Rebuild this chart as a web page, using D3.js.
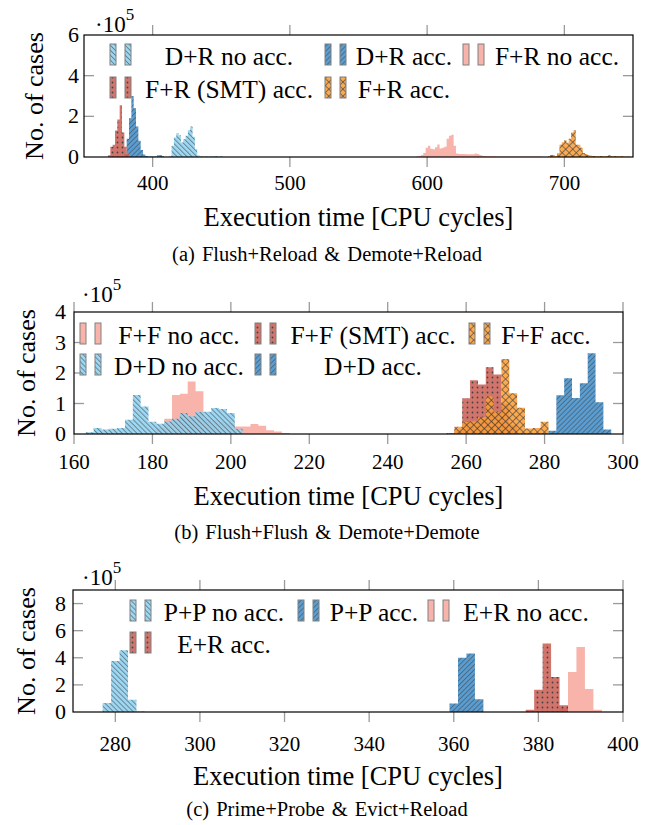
<!DOCTYPE html>
<html>
<head>
<meta charset="utf-8">
<script src="https://cdn.jsdelivr.net/npm/d3@7"></script>
<style>
  body { margin: 0; background: #fff; }
  svg text { font-family: "Liberation Serif", "Times New Roman", serif; fill: #000; }
</style>
</head>
<body>
<div id="chart"></div>
<script>
// all counts are in units of 1e5 cases, histogram bins start at "start"

// (a) Flush+Reload & Demote+Reload, bin width 1.7 cycles
let aBin = 1.7;
let aTicksX = [400, 500, 600, 700];
let aTicksY = [0, 2, 4, 6];
let drNoAccStart = 412.1;
let drNoAcc = [0.05, 0.55, 0.96, 1.17, 1.07, 0.71, 0.87, 1.04, 1.32, 1.5, 1.0, 0.38, 0.08, 0.04, 0.03, 0.03, 0.02, 0.02, 0.03, 0.05, 0.04, 0.02, 0.02];
let drAccStart = 379.4;
let drAcc = [0.15, 0.9, 1.9, 3.0, 2.4, 1.5, 0.8, 0.35, 0.12, 0.05, 0.03, 0.02, 0.02, 0.03, 0.08, 0.1, 0.05];
let frNoAccStart = 592.1;
let frNoAcc = [0.03, 0.05, 0.1, 0.2, 0.45, 0.55, 0.4, 0.38, 0.48, 0.62, 0.42, 0.45, 0.5, 0.9, 1.05, 1.1, 0.55, 0.17,
  0.15, 0.15, 0.15, 0.14, 0.14, 0.13, 0.13, 0.17, 0.15, 0.1, 0.06, 0.05, 0.04, 0.04, 0.04, 0.04, 0.03, 0.03, 0.03,
  0.03, 0.03, 0.03, 0.03, 0.03, 0.03, 0.02, 0.02, 0.02, 0.02, 0.02, 0.02, 0.02, 0.02, 0.02, 0.02, 0.02];
let frSmtStart = 367.5;
let frSmt = [0.08, 0.5, 0.6, 1.3, 1.85, 2.55, 1.2, 0.5, 0.15];
let frAccStart = 687.9;
let frAcc = [0.05, 0.1, 0.1, 0.05, 0.2, 0.6, 0.72, 0.82, 0.7, 0.9, 1.2, 1.32, 0.6, 0.6, 0.45, 0.2, 0.15, 0.1, 0.07,
  0.05, 0.04, 0.04, 0.04, 0.04, 0.04, 0.04, 0.1, 0.05, 0.04, 0.04, 0.04, 0.04, 0.03, 0.03, 0.03];

// (b) Flush+Flush & Demote+Demote, bin width 2 cycles
let bBin = 2;
let bTicksX = [160, 180, 200, 220, 240, 260, 280, 300];
let bTicksY = [0, 1, 2, 3, 4];
let ffNoAccStart = 181;
let ffNoAcc = [0.2, 0.5, 1.28, 1.32, 1.72, 1.4, 0.5, 0.45, 0.4, 0.35, 0.25, 0.25, 0.33, 0.27, 0.12, 0.08, 0.03];
let ffSmtStart = 257;
let ffSmt = [0.15, 1.17, 1.76, 1.62, 2.19, 1.95, 1.0, 0.3];
let ffAccStart = 255;
let ffAcc = [0.03, 0.24, 0.4, 0.42, 0.55, 1.23, 0.72, 2.46, 1.34, 0.86, 0.18, 0.2, 0.4];
let ddNoAccStart = 163;
let ddNoAcc = [0.06, 0.2, 0.15, 0.17, 0.2, 0.47, 1.28, 0.9, 0.4, 0.34, 0.41, 0.5, 0.69, 0.58, 0.72, 0.73, 0.85, 0.82, 0.69, 0.17];
let ddAccStart = 281;
let ddAcc = [0.11, 1.27, 1.83, 1.18, 1.66, 2.65, 1.04, 0.15];

// (c) Prime+Probe & Evict+Reload, bin width 2 cycles
let cBin = 2;
let cTicksX = [280, 300, 320, 340, 360, 380, 400];
let cTicksY = [0, 2, 4, 6, 8];
let ppNoAccStart = 277;
let ppNoAcc = [0.66, 3.77, 4.56, 0.91, 0.03];
let ppAccStart = 359;
let ppAcc = [0.62, 4.01, 4.31, 0.94];
let erNoAccStart = 385;
let erNoAcc = [0.3, 2.96, 4.8, 1.7, 0.17];
let erAccStart = 377;
let erAcc = [0.17, 1.65, 5.05, 2.59, 0.49];

let styles = {
    light: {color: '#8ed3f3', pattern: 'nw'},
    dark: {color: '#4290cc', pattern: 'ne'},
    pink: {color: '#f7a89e', pattern: null},
    red: {color: '#cb6157', pattern: 'dots'},
    orange: {color: '#fb9e38', pattern: 'cross'}
};

let panels = [
    {
        box: {x0: 84, x1: 633, y0: 35, y1: 157},
        xDomain: [350, 750], yDomain: [0, 6], bin: aBin,
        ticksX: aTicksX, ticksY: aTicksY,
        yLabelRight: 79, yTitleX: 43, xLabelY: 190, xTitleY: 226,
        expo: {x: 95, y: 32}, caption: '(a) Flush+Reload & Demote+Reload', captionY: 261,
        series: [
            {label: 'D+R no acc.', style: 'light', start: drNoAccStart, counts: drNoAcc},
            {label: 'D+R acc.', style: 'dark', start: drAccStart, counts: drAcc},
            {label: 'F+R no acc.', style: 'pink', start: frNoAccStart, counts: frNoAcc},
            {label: 'F+R (SMT) acc.', style: 'red', start: frSmtStart, counts: frSmt},
            {label: 'F+R acc.', style: 'orange', start: frAccStart, counts: frAcc}
        ],
        legend: {iconX: [110, 325, 463], textX: [229, 404, 557], rowY: [65, 98]}
    },
    {
        box: {x0: 74, x1: 623, y0: 312, y1: 434},
        xDomain: [160, 300], yDomain: [0, 4], bin: bBin,
        ticksX: bTicksX, ticksY: bTicksY,
        yLabelRight: 66, yTitleX: 35, xLabelY: 469, xTitleY: 505,
        expo: {x: 82, y: 302}, caption: '(b) Flush+Flush & Demote+Demote', captionY: 539,
        series: [
            {label: 'F+F no acc.', style: 'pink', start: ffNoAccStart, counts: ffNoAcc},
            {label: 'F+F (SMT) acc.', style: 'red', start: ffSmtStart, counts: ffSmt},
            {label: 'F+F acc.', style: 'orange', start: ffAccStart, counts: ffAcc},
            {label: 'D+D no acc.', style: 'light', start: ddNoAccStart, counts: ddNoAcc},
            {label: 'D+D acc.', style: 'dark', start: ddAccStart, counts: ddAcc}
        ],
        legend: {iconX: [80, 255, 469], textX: [179, 373, 546], rowY: [344, 375]}
    },
    {
        box: {x0: 73, x1: 623, y0: 590, y1: 712},
        xDomain: [270, 400], yDomain: [0, 9], bin: cBin,
        ticksX: cTicksX, ticksY: cTicksY,
        yLabelRight: 66, yTitleX: 35, xLabelY: 751, xTitleY: 785,
        expo: {x: 82, y: 585}, caption: '(c) Prime+Probe & Evict+Reload', captionY: 816,
        series: [
            {label: 'P+P no acc.', style: 'light', start: ppNoAccStart, counts: ppNoAcc},
            {label: 'P+P acc.', style: 'dark', start: ppAccStart, counts: ppAcc},
            {label: 'E+R no acc.', style: 'pink', start: erNoAccStart, counts: erNoAcc},
            {label: 'E+R acc.', style: 'red', start: erAccStart, counts: erAcc}
        ],
        legend: {iconX: [130, 298, 428], textX: [224, 374, 526], rowY: [621, 653]}
    }
];

let svg = d3.select('#chart')
    .append('svg')
    .attr('width', 657)
    .attr('height', 825);

let defs = svg.append('defs');
let inkCol = '#2a2a2a';

// fill patterns like pgfplots: lines, dots, crosshatch
Object.keys(styles).forEach(function (k) {
    let st = styles[k];
    if (!st.pattern) { st.fill = st.color; return; }
    let id = 'pat-' + k;
    st.fill = 'url(#' + id + ')';
    let p = defs.append('pattern').attr('id', id).attr('patternUnits', 'userSpaceOnUse');
    if (st.pattern === 'nw' || st.pattern === 'ne') {
        p.attr('width', 3.5).attr('height', 6)
            .attr('patternTransform', st.pattern === 'nw' ? 'rotate(-45)' : 'rotate(45)');
        p.append('rect').attr('width', 3.5).attr('height', 6).attr('fill', st.color);
        p.append('line').attr('x1', 0.5).attr('x2', 0.5).attr('y1', 0).attr('y2', 6)
            .attr('stroke', inkCol).attr('stroke-width', 0.6);
    } else if (st.pattern === 'dots') {
        p.attr('width', 5).attr('height', 5);
        p.append('rect').attr('width', 5).attr('height', 5).attr('fill', st.color);
        p.append('circle').attr('cx', 2.5).attr('cy', 2.5).attr('r', 0.9).attr('fill', inkCol);
    } else {
        p.attr('width', 5).attr('height', 5).attr('patternTransform', 'rotate(45)');
        p.append('rect').attr('width', 5).attr('height', 5).attr('fill', st.color);
        p.append('line').attr('x1', 0.4).attr('x2', 0.4).attr('y1', 0).attr('y2', 5)
            .attr('stroke', inkCol).attr('stroke-width', 0.7);
        p.append('line').attr('x1', 0).attr('x2', 5).attr('y1', 0.4).attr('y2', 0.4)
            .attr('stroke', inkCol).attr('stroke-width', 0.7);
    }
});

panels.forEach(function (p) {
    let g = svg.append('g');
    let x = d3.scaleLinear().domain(p.xDomain).range([p.box.x0, p.box.x1]);
    let y = d3.scaleLinear().domain(p.yDomain).range([p.box.y1, p.box.y0]);

    let area = d3.area()
        .curve(d3.curveStepAfter)
        .x(function (d) { return x(d[0]); })
        .y0(y(0))
        .y1(function (d) { return y(d[1]); });

    // histograms
    p.series.forEach(function (s) {
        let pts = s.counts.map(function (c, i) { return [s.start + i * p.bin, c]; });
        pts.push([s.start + s.counts.length * p.bin, s.counts[s.counts.length - 1]]);
        g.append('path')
            .datum(pts)
            .attr('d', area)
            .attr('fill', styles[s.style].fill)
            .attr('fill-opacity', 0.88);
    });

    // ticks: x outside, y inside, mirrored
    let tickCol = '#9a9a9a';
    p.ticksX.forEach(function (t) {
        g.append('line').attr('x1', x(t)).attr('x2', x(t)).attr('y1', p.box.y1).attr('y2', p.box.y1 + 10)
            .attr('stroke', tickCol).attr('stroke-width', 1.3);
        g.append('line').attr('x1', x(t)).attr('x2', x(t)).attr('y1', p.box.y0).attr('y2', p.box.y0 - 10)
            .attr('stroke', tickCol).attr('stroke-width', 1.3);
    });
    p.ticksY.forEach(function (t) {
        if (t === p.yDomain[0] || t === p.yDomain[1]) return;
        g.append('line').attr('x1', p.box.x0).attr('x2', p.box.x0 + 10).attr('y1', y(t)).attr('y2', y(t))
            .attr('stroke', tickCol).attr('stroke-width', 1.3);
        g.append('line').attr('x1', p.box.x1).attr('x2', p.box.x1 - 10).attr('y1', y(t)).attr('y2', y(t))
            .attr('stroke', tickCol).attr('stroke-width', 1.3);
    });

    g.append('rect')
        .attr('x', p.box.x0).attr('y', p.box.y0)
        .attr('width', p.box.x1 - p.box.x0).attr('height', p.box.y1 - p.box.y0)
        .attr('fill', 'none').attr('stroke', '#000').attr('stroke-width', 1.2);

    // tick labels
    g.selectAll('.xl').data(p.ticksX).enter().append('text')
        .attr('x', function (d) { return x(d); })
        .attr('y', p.xLabelY)
        .attr('text-anchor', 'middle')
        .attr('font-size', '21px')
        .text(function (d) { return d; });
    g.selectAll('.yl').data(p.ticksY).enter().append('text')
        .attr('x', p.yLabelRight)
        .attr('y', function (d) { return y(d) + 7; })
        .attr('text-anchor', 'end')
        .attr('font-size', '22px')
        .text(function (d) { return d; });

    // exponent label
    let ex = g.append('text').attr('x', p.expo.x).attr('y', p.expo.y).attr('font-size', '23px');
    ex.append('tspan').text('\u00b710');
    ex.append('tspan').attr('dy', -12).attr('font-size', '17px').text('5');

    // axis titles
    g.append('text')
        .attr('x', (p.box.x0 + p.box.x1) / 2)
        .attr('y', p.xTitleY)
        .attr('text-anchor', 'middle')
        .attr('font-size', '26.5px')
        .text('Execution time [CPU cycles]');
    g.append('text')
        .attr('transform', 'translate(' + p.yTitleX + ',' + (p.box.y0 + p.box.y1) / 2 + ') rotate(-90)')
        .attr('text-anchor', 'middle')
        .attr('font-size', '26px')
        .text('No. of cases');

    // legend, 3 columns
    p.series.forEach(function (s, i) {
        let col = i % 3, row = Math.floor(i / 3);
        let base = p.legend.rowY[row];
        let ix = p.legend.iconX[col];
        [0, 15].forEach(function (off) {
            g.append('rect')
                .attr('x', ix + off).attr('y', base - 21)
                .attr('width', 6).attr('height', 21)
                .attr('fill', styles[s.style].fill)
                .attr('fill-opacity', 0.88)
                .attr('stroke', '#808080').attr('stroke-width', 1);
        });
        g.append('text')
            .attr('x', p.legend.textX[col])
            .attr('y', base)
            .attr('text-anchor', 'middle')
            .attr('font-size', '25.5px')
            .text(s.label);
    });

    // caption
    svg.append('text')
        .attr('x', 327)
        .attr('y', p.captionY)
        .attr('text-anchor', 'middle')
        .attr('font-size', '20.5px')
        .attr('word-spacing', '2px')
        .text(p.caption);
});
</script>
</body>
</html>
